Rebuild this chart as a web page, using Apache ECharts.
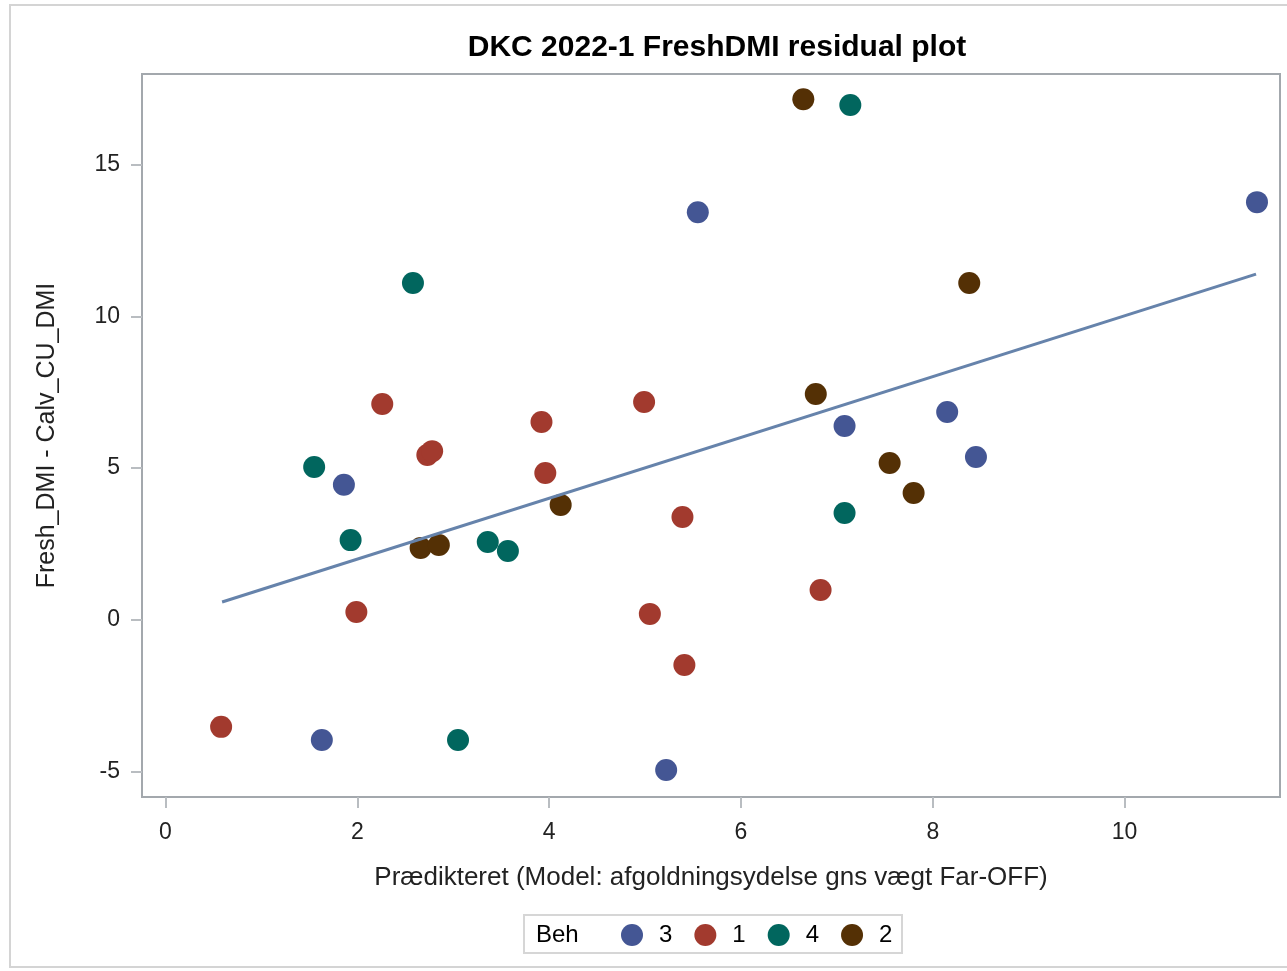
<!DOCTYPE html>
<html>
<head>
<meta charset="utf-8">
<script src="https://cdn.jsdelivr.net/npm/echarts@6/dist/echarts.min.js"></script>
<style>
html,body{margin:0;padding:0;background:#fff;}
#chart{width:1287px;height:971px;}
</style>
</head>
<body>
<div id="chart"></div>
<script>
const titleText = 'DKC 2022-1 FreshDMI residual plot';
const xName = 'Prædikteret (Model: afgoldningsydelse gns vægt Far-OFF)';
const yName = 'Fresh_DMI - Calv_CU_DMI';
const legendTitle = 'Beh';
const groupNames = ['3', '1', '4', '2'];
const groupColors = ['#445694', '#A23A2E', '#01665E', '#543005'];
const xTicks = [0, 2, 4, 6, 8, 10];
const yTicks = [-5, 0, 5, 10, 15];

const beh3 = [[1.86,4.45],[1.63,-3.95],[5.55,13.43],[5.22,-4.94],[7.08,6.39],[8.15,6.85],[8.45,5.37],[11.38,13.76]];
const beh1 = [[0.58,-3.52],[1.99,0.26],[2.26,7.11],[2.73,5.43],[2.78,5.56],[3.92,6.52],[3.96,4.84],[4.99,7.18],[5.39,3.39],[5.05,0.20],[5.41,-1.48],[6.83,0.99]];
const beh4 = [[1.55,5.04],[1.93,2.63],[2.58,11.10],[3.05,-3.95],[3.36,2.57],[3.57,2.27],[7.08,3.52],[7.14,16.96]];
const beh2 = [[2.66,2.37],[2.85,2.47],[4.12,3.79],[6.65,17.15],[6.78,7.44],[7.55,5.17],[7.80,4.18],[8.38,11.10]];
const groups = [beh3, beh1, beh4, beh2];
const fitX = [0.59, 11.37];
const fitY = [0.59, 11.39];

const FONT = '"Liberation Sans", Arial, sans-serif';
const chart = echarts.init(document.getElementById('chart'));

const series = groups.map((g, i) => ({
  name: groupNames[i],
  type: 'scatter',
  data: g,
  symbol: 'circle',
  symbolSize: 22,
  itemStyle: { color: groupColors[i], opacity: 1 },
  z: 2
}));
series.push({
  name: 'fit',
  type: 'line',
  data: fitX.map((x, i) => [x, fitY[i]]),
  symbol: 'none',
  lineStyle: { color: '#6683AB', width: 3 },
  z: 3,
  silent: true
});

chart.setOption({
  animation: false,
  backgroundColor: '#fff',
  title: {
    text: titleText,
    left: 712,
    textAlign: 'center',
    top: 28,
    textStyle: { fontFamily: FONT, fontSize: 30, fontWeight: 'bold', color: '#000' }
  },
  grid: {
    left: 142, right: 7, top: 74, bottom: 174,
    show: true, borderColor: '#a3a8ad', borderWidth: 2, backgroundColor: '#fff'
  },
  legend: {
    data: groupNames,
    left: 616, top: 918,
    orient: 'horizontal',
    icon: 'circle',
    itemWidth: 44, itemHeight: 22, itemGap: 22,
    textStyle: { fontFamily: FONT, fontSize: 24, color: '#000' }
  },
  graphic: [
    { type: 'rect', shape: { x: 10, y: 5, width: 1300, height: 962 },
      style: { fill: 'none', stroke: '#d4d4d4', lineWidth: 2 }, z: -10, silent: true },
    { type: 'rect', shape: { x: 524, y: 915, width: 378, height: 38 },
      style: { fill: '#fff', stroke: '#d6d6d6', lineWidth: 2 }, z: -1, silent: true },
    { type: 'text', left: 536, top: 923,
      style: { text: legendTitle, font: '24px ' + FONT, fill: '#000' }, silent: true }
  ],
  xAxis: {
    type: 'value',
    min: -0.245, max: 11.62,
    name: xName, nameLocation: 'middle', nameGap: 68,
    nameTextStyle: { fontFamily: FONT, fontSize: 26, color: '#222' },
    axisLine: { show: false, onZero: false },
    axisTick: { show: true, customValues: xTicks, length: 11, inside: false,
      lineStyle: { color: '#b9bdc1', width: 2 } },
    axisLabel: { customValues: xTicks, margin: 24, fontFamily: FONT, fontSize: 23, color: '#222' },
    splitLine: { show: false }
  },
  yAxis: {
    type: 'value',
    min: -5.83, max: 17.98,
    name: yName, nameLocation: 'middle', nameGap: 82, nameRotate: 90,
    nameTextStyle: { fontFamily: FONT, fontSize: 25, color: '#222' },
    axisLine: { show: false, onZero: false },
    axisTick: { show: true, customValues: yTicks, length: 11, inside: false,
      lineStyle: { color: '#b9bdc1', width: 2 } },
    axisLabel: { customValues: yTicks, margin: 22, fontFamily: FONT, fontSize: 23, color: '#222' },
    splitLine: { show: false }
  },
  series: series
});
</script>
</body>
</html>
